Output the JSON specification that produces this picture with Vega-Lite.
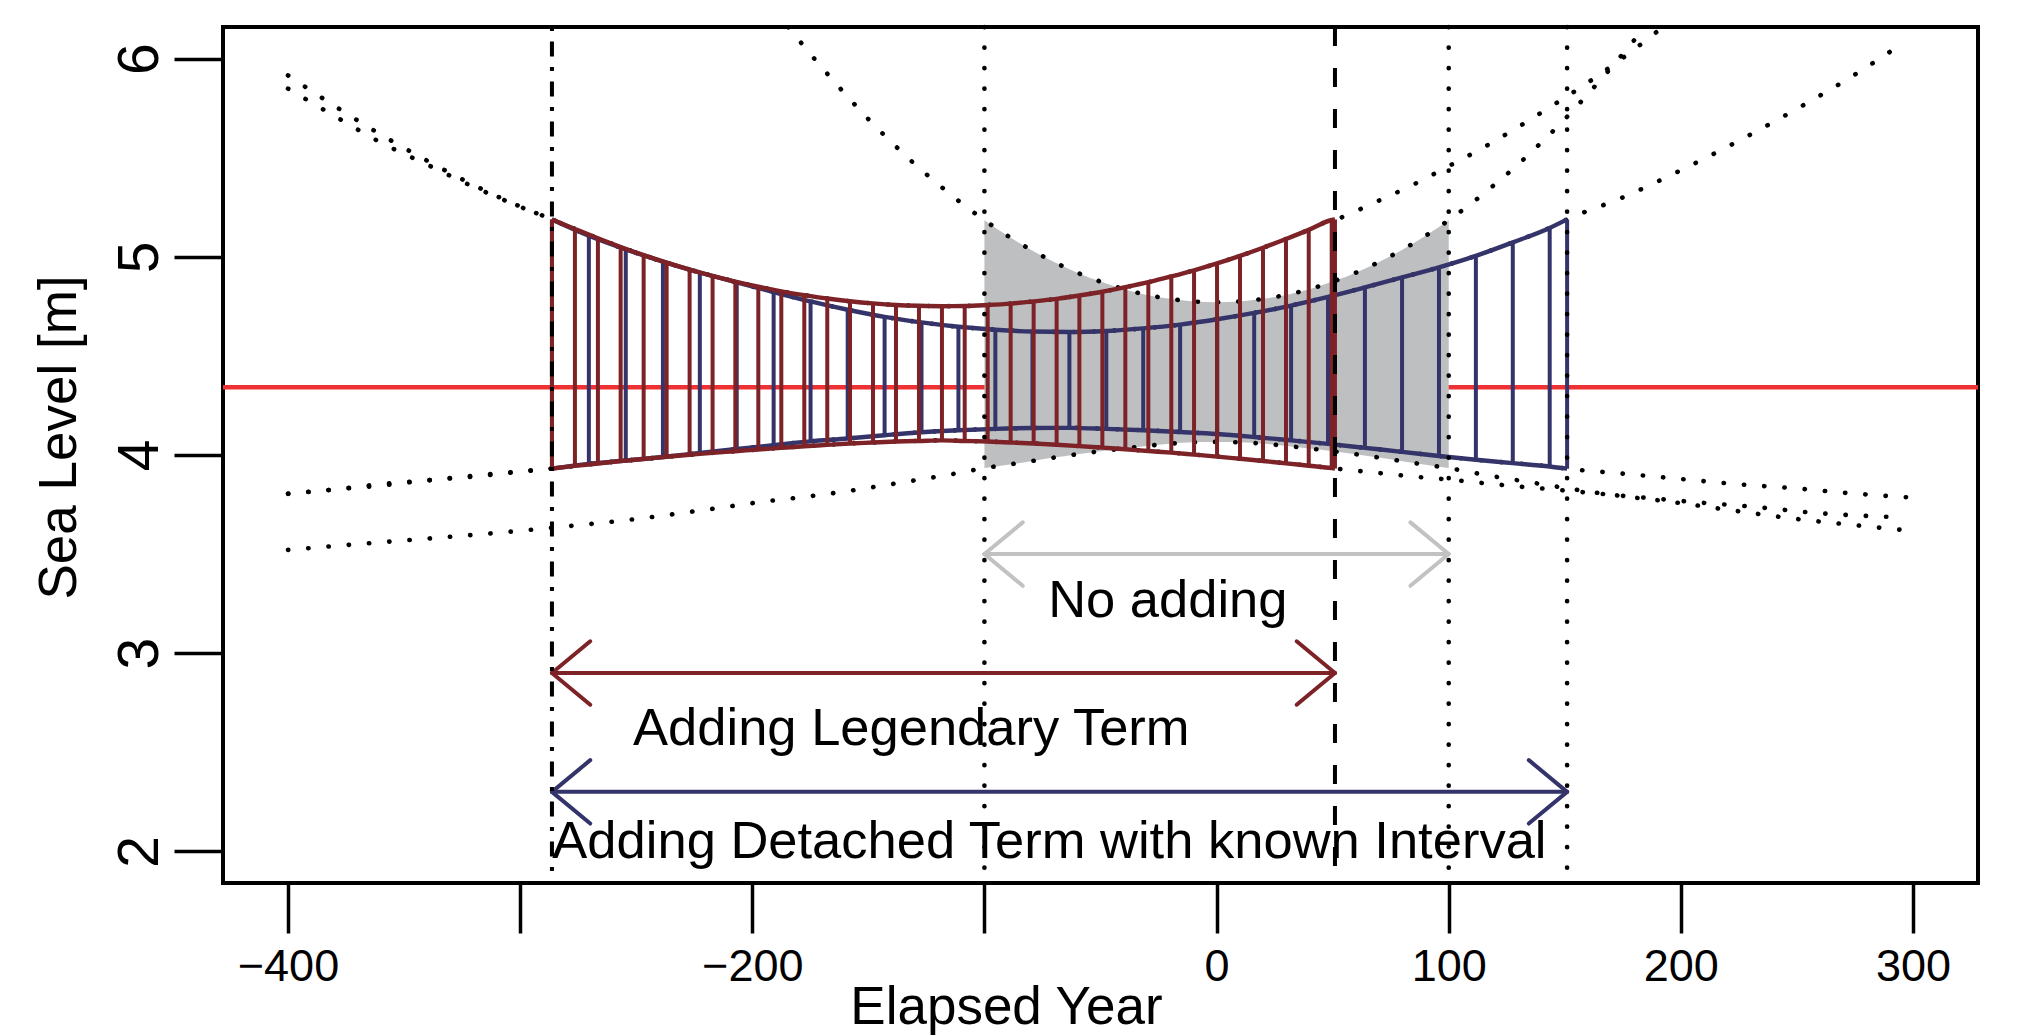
{
  "$schema": "https://vega.github.io/schema/vega-lite/v6.json",
  "width": 1755,
  "height": 856,
  "autosize": {"type": "none"},
  "padding": {"left": 223, "top": 27, "right": 40, "bottom": 152},
  "background": "white",
  "config": {
    "view": {"stroke": "black", "strokeWidth": 4},
    "font": "Liberation Sans",
    "axis": {"labelFont": "Liberation Sans", "titleFont": "Liberation Sans", "labelColor": "black", "titleColor": "black", "tickColor": "black", "titleFontWeight": "normal", "grid": false, "domain": false}
  },
  "datasets": {
    "bands": [
      {"band":"red","x":-400,"lo":3.805,"hi":5.916,"hatch":false},
      {"band":"red","x":-380,"lo":3.826,"hi":5.762,"hatch":false},
      {"band":"red","x":-360,"lo":3.846,"hi":5.617,"hatch":false},
      {"band":"red","x":-340,"lo":3.872,"hi":5.485,"hatch":false},
      {"band":"red","x":-320,"lo":3.891,"hi":5.362,"hatch":false},
      {"band":"red","x":-300,"lo":3.916,"hi":5.254,"hatch":false},
      {"band":"red","x":-286.3,"lo":3.932,"hi":5.189,"hatch":true},
      {"band":"red","x":-276.4,"lo":3.945,"hi":5.141,"hatch":true},
      {"band":"red","x":-266.5,"lo":3.957,"hi":5.094,"hatch":true},
      {"band":"red","x":-256.7,"lo":3.969,"hi":5.050,"hatch":true},
      {"band":"red","x":-246.8,"lo":3.980,"hi":5.009,"hatch":true},
      {"band":"red","x":-236.9,"lo":3.991,"hi":4.971,"hatch":true},
      {"band":"red","x":-227.0,"lo":4.001,"hi":4.936,"hatch":true},
      {"band":"red","x":-217.1,"lo":4.011,"hi":4.904,"hatch":true},
      {"band":"red","x":-207.3,"lo":4.019,"hi":4.875,"hatch":true},
      {"band":"red","x":-197.4,"lo":4.028,"hi":4.849,"hatch":true},
      {"band":"red","x":-187.5,"lo":4.036,"hi":4.826,"hatch":true},
      {"band":"red","x":-177.6,"lo":4.044,"hi":4.807,"hatch":true},
      {"band":"red","x":-167.7,"lo":4.051,"hi":4.790,"hatch":true},
      {"band":"red","x":-157.9,"lo":4.058,"hi":4.776,"hatch":true},
      {"band":"red","x":-148.0,"lo":4.063,"hi":4.765,"hatch":true},
      {"band":"red","x":-138.1,"lo":4.068,"hi":4.757,"hatch":true},
      {"band":"red","x":-128.2,"lo":4.071,"hi":4.753,"hatch":true},
      {"band":"red","x":-118.3,"lo":4.074,"hi":4.751,"hatch":true},
      {"band":"red","x":-108.5,"lo":4.071,"hi":4.752,"hatch":true},
      {"band":"red","x":-98.6,"lo":4.068,"hi":4.757,"hatch":true},
      {"band":"red","x":-88.7,"lo":4.063,"hi":4.764,"hatch":true},
      {"band":"red","x":-78.8,"lo":4.058,"hi":4.775,"hatch":true},
      {"band":"red","x":-68.9,"lo":4.052,"hi":4.788,"hatch":true},
      {"band":"red","x":-59.1,"lo":4.045,"hi":4.805,"hatch":true},
      {"band":"red","x":-49.2,"lo":4.037,"hi":4.824,"hatch":true},
      {"band":"red","x":-39.3,"lo":4.029,"hi":4.847,"hatch":true},
      {"band":"red","x":-29.4,"lo":4.020,"hi":4.872,"hatch":true},
      {"band":"red","x":-19.5,"lo":4.012,"hi":4.901,"hatch":true},
      {"band":"red","x":-9.7,"lo":4.002,"hi":4.932,"hatch":true},
      {"band":"red","x":0.2,"lo":3.992,"hi":4.967,"hatch":true},
      {"band":"red","x":10.1,"lo":3.981,"hi":5.005,"hatch":true},
      {"band":"red","x":20.0,"lo":3.970,"hi":5.046,"hatch":true},
      {"band":"red","x":29.9,"lo":3.958,"hi":5.090,"hatch":true},
      {"band":"red","x":39.7,"lo":3.946,"hi":5.136,"hatch":true},
      {"band":"red","x":49.6,"lo":3.934,"hi":5.186,"hatch":true},
      {"band":"red","x":51,"lo":3.932,"hi":5.189,"hatch":true},
      {"band":"red","x":60,"lo":3.921,"hi":5.231,"hatch":false},
      {"band":"red","x":70,"lo":3.909,"hi":5.284,"hatch":false},
      {"band":"red","x":85,"lo":3.891,"hi":5.366,"hatch":false},
      {"band":"red","x":100,"lo":3.876,"hi":5.458,"hatch":false},
      {"band":"red","x":115,"lo":3.858,"hi":5.552,"hatch":false},
      {"band":"red","x":130,"lo":3.841,"hi":5.656,"hatch":false},
      {"band":"red","x":145,"lo":3.826,"hi":5.766,"hatch":false},
      {"band":"red","x":160,"lo":3.810,"hi":5.880,"hatch":false},
      {"band":"red","x":175,"lo":3.794,"hi":6.004,"hatch":false},
      {"band":"red","x":190,"lo":3.779,"hi":6.139,"hatch":false},
      {"band":"red","x":205,"lo":3.763,"hi":6.28,"hatch":false},
      {"band":"red","x":230,"lo":3.740,"hi":null,"hatch":false},
      {"band":"red","x":260,"lo":3.706,"hi":null,"hatch":false},
      {"band":"red","x":297,"lo":3.685,"hi":null,"hatch":false},

      {"band":"blue","x":-400,"lo":3.804,"hi":5.849,"hatch":false},
      {"band":"blue","x":-380,"lo":3.826,"hi":5.711,"hatch":false},
      {"band":"blue","x":-360,"lo":3.853,"hi":5.577,"hatch":false},
      {"band":"blue","x":-340,"lo":3.872,"hi":5.465,"hatch":false},
      {"band":"blue","x":-320,"lo":3.896,"hi":5.353,"hatch":false},
      {"band":"blue","x":-300,"lo":3.917,"hi":5.253,"hatch":false},
      {"band":"blue","x":-286.3,"lo":3.931,"hi":5.189,"hatch":true},
      {"band":"blue","x":-270.4,"lo":3.955,"hi":5.107,"hatch":true},
      {"band":"blue","x":-254.5,"lo":3.972,"hi":5.038,"hatch":true},
      {"band":"blue","x":-238.5,"lo":3.990,"hi":4.976,"hatch":true},
      {"band":"blue","x":-222.6,"lo":4.010,"hi":4.921,"hatch":true},
      {"band":"blue","x":-206.7,"lo":4.030,"hi":4.871,"hatch":true},
      {"band":"blue","x":-190.8,"lo":4.050,"hi":4.822,"hatch":true},
      {"band":"blue","x":-174.9,"lo":4.069,"hi":4.775,"hatch":true},
      {"band":"blue","x":-158.9,"lo":4.083,"hi":4.733,"hatch":true},
      {"band":"blue","x":-143.0,"lo":4.100,"hi":4.697,"hatch":true},
      {"band":"blue","x":-127.1,"lo":4.115,"hi":4.669,"hatch":true},
      {"band":"blue","x":-111.2,"lo":4.125,"hi":4.647,"hatch":true},
      {"band":"blue","x":-95.3,"lo":4.132,"hi":4.632,"hatch":true},
      {"band":"blue","x":-79.3,"lo":4.136,"hi":4.623,"hatch":true},
      {"band":"blue","x":-63.4,"lo":4.137,"hi":4.621,"hatch":true},
      {"band":"blue","x":-47.5,"lo":4.132,"hi":4.626,"hatch":true},
      {"band":"blue","x":-31.6,"lo":4.125,"hi":4.639,"hatch":true},
      {"band":"blue","x":-15.7,"lo":4.116,"hi":4.658,"hatch":true},
      {"band":"blue","x":0.3,"lo":4.106,"hi":4.685,"hatch":true},
      {"band":"blue","x":16.2,"lo":4.091,"hi":4.717,"hatch":true},
      {"band":"blue","x":32.1,"lo":4.074,"hi":4.754,"hatch":true},
      {"band":"blue","x":48.0,"lo":4.056,"hi":4.798,"hatch":true},
      {"band":"blue","x":63.9,"lo":4.036,"hi":4.846,"hatch":true},
      {"band":"blue","x":79.9,"lo":4.016,"hi":4.896,"hatch":true},
      {"band":"blue","x":95.8,"lo":3.995,"hi":4.947,"hatch":true},
      {"band":"blue","x":111.7,"lo":3.976,"hi":5.005,"hatch":true},
      {"band":"blue","x":127.6,"lo":3.959,"hi":5.073,"hatch":true},
      {"band":"blue","x":143.5,"lo":3.942,"hi":5.146,"hatch":true},
      {"band":"blue","x":151,"lo":3.931,"hi":5.189,"hatch":true},
      {"band":"blue","x":175,"lo":3.906,"hi":5.300,"hatch":false},
      {"band":"blue","x":200,"lo":3.879,"hi":5.437,"hatch":false},
      {"band":"blue","x":225,"lo":3.852,"hi":5.586,"hatch":false},
      {"band":"blue","x":250,"lo":3.831,"hi":5.747,"hatch":false},
      {"band":"blue","x":275,"lo":3.805,"hi":5.920,"hatch":false},
      {"band":"blue","x":297,"lo":3.787,"hi":6.089,"hatch":false},

      {"band":"grey","x":-400,"lo":3.521,"hi":null,"hatch":false},
      {"band":"grey","x":-370,"lo":3.550,"hi":null,"hatch":false},
      {"band":"grey","x":-340,"lo":3.578,"hi":null,"hatch":false},
      {"band":"grey","x":-310,"lo":3.607,"hi":null,"hatch":false},
      {"band":"grey","x":-280,"lo":3.640,"hi":null,"hatch":false},
      {"band":"grey","x":-250,"lo":3.677,"hi":null,"hatch":false},
      {"band":"grey","x":-220,"lo":3.724,"hi":null,"hatch":false},
      {"band":"grey","x":-190,"lo":3.772,"hi":6.24,"hatch":false},
      {"band":"grey","x":-180,"lo":3.785,"hi":6.095,"hatch":false},
      {"band":"grey","x":-170,"lo":3.800,"hi":5.955,"hatch":false},
      {"band":"grey","x":-160,"lo":3.816,"hi":5.822,"hatch":false},
      {"band":"grey","x":-150,"lo":3.834,"hi":5.695,"hatch":false},
      {"band":"grey","x":-140,"lo":3.853,"hi":5.578,"hatch":false},
      {"band":"grey","x":-130,"lo":3.872,"hi":5.468,"hatch":false},
      {"band":"grey","x":-120,"lo":3.891,"hi":5.367,"hatch":false},
      {"band":"grey","x":-110,"lo":3.912,"hi":5.272,"hatch":false},
      {"band":"grey","x":-100,"lo":3.934,"hi":5.185,"hatch":false},
      {"band":"grey","x":-90,"lo":3.951,"hi":5.106,"hatch":false},
      {"band":"grey","x":-80,"lo":3.969,"hi":5.036,"hatch":false},
      {"band":"grey","x":-70,"lo":3.987,"hi":4.974,"hatch":false},
      {"band":"grey","x":-60,"lo":4.004,"hi":4.920,"hatch":false},
      {"band":"grey","x":-50,"lo":4.019,"hi":4.875,"hatch":false},
      {"band":"grey","x":-40,"lo":4.033,"hi":4.837,"hatch":false},
      {"band":"grey","x":-30,"lo":4.046,"hi":4.808,"hatch":false},
      {"band":"grey","x":-20,"lo":4.057,"hi":4.788,"hatch":false},
      {"band":"grey","x":-10,"lo":4.064,"hi":4.775,"hatch":false},
      {"band":"grey","x":0,"lo":4.066,"hi":4.771,"hatch":false},
      {"band":"grey","x":10,"lo":4.064,"hi":4.775,"hatch":false},
      {"band":"grey","x":20,"lo":4.057,"hi":4.788,"hatch":false},
      {"band":"grey","x":30,"lo":4.046,"hi":4.808,"hatch":false},
      {"band":"grey","x":40,"lo":4.033,"hi":4.837,"hatch":false},
      {"band":"grey","x":50,"lo":4.019,"hi":4.875,"hatch":false},
      {"band":"grey","x":60,"lo":4.004,"hi":4.920,"hatch":false},
      {"band":"grey","x":70,"lo":3.987,"hi":4.974,"hatch":false},
      {"band":"grey","x":80,"lo":3.969,"hi":5.036,"hatch":false},
      {"band":"grey","x":90,"lo":3.951,"hi":5.106,"hatch":false},
      {"band":"grey","x":100,"lo":3.934,"hi":5.185,"hatch":false},
      {"band":"grey","x":110,"lo":3.912,"hi":5.272,"hatch":false},
      {"band":"grey","x":120,"lo":3.891,"hi":5.367,"hatch":false},
      {"band":"grey","x":130,"lo":3.872,"hi":5.468,"hatch":false},
      {"band":"grey","x":140,"lo":3.853,"hi":5.578,"hatch":false},
      {"band":"grey","x":150,"lo":3.834,"hi":5.695,"hatch":false},
      {"band":"grey","x":160,"lo":3.816,"hi":5.822,"hatch":false},
      {"band":"grey","x":170,"lo":3.800,"hi":5.955,"hatch":false},
      {"band":"grey","x":180,"lo":3.785,"hi":6.095,"hatch":false},
      {"band":"grey","x":190,"lo":3.772,"hi":6.24,"hatch":false},
      {"band":"grey","x":220,"lo":3.724,"hi":null,"hatch":false},
      {"band":"grey","x":250,"lo":3.677,"hi":null,"hatch":false},
      {"band":"grey","x":280,"lo":3.640,"hi":null,"hatch":false},
      {"band":"grey","x":297,"lo":3.620,"hi":null,"hatch":false}
    ],
    "arrows": [
      {"arrow":"none","x":-100,"y":3.5,"x2":100,"y2":3.5},
      {"arrow":"none","x":-100,"y":3.5,"x2":-83.5,"y2":3.66},
      {"arrow":"none","x":-100,"y":3.5,"x2":-83.5,"y2":3.34},
      {"arrow":"none","x":100,"y":3.5,"x2":83.5,"y2":3.66},
      {"arrow":"none","x":100,"y":3.5,"x2":83.5,"y2":3.34},
      {"arrow":"legendary","x":-286.3,"y":2.9,"x2":51,"y2":2.9},
      {"arrow":"legendary","x":-286.3,"y":2.9,"x2":-269.8,"y2":3.06},
      {"arrow":"legendary","x":-286.3,"y":2.9,"x2":-269.8,"y2":2.74},
      {"arrow":"legendary","x":51,"y":2.9,"x2":34.5,"y2":3.06},
      {"arrow":"legendary","x":51,"y":2.9,"x2":34.5,"y2":2.74},
      {"arrow":"detached","x":-286.3,"y":2.3,"x2":151,"y2":2.3},
      {"arrow":"detached","x":-286.3,"y":2.3,"x2":-269.8,"y2":2.46},
      {"arrow":"detached","x":-286.3,"y":2.3,"x2":-269.8,"y2":2.14},
      {"arrow":"detached","x":151,"y":2.3,"x2":134.5,"y2":2.46},
      {"arrow":"detached","x":151,"y":2.3,"x2":134.5,"y2":2.14}
    ],
    "labels": [
      {"label":"No adding","x":-21,"y":3.182},
      {"label":"Adding Legendary Term","x":-131.5,"y":2.537},
      {"label":"Adding Detached Term with known Interval","x":-72,"y":1.965}
    ],
    "events": [
      {"kind":"start","x":-286.3},
      {"kind":"legendary end","x":51},
      {"kind":"window","x":-100},
      {"kind":"window","x":100},
      {"kind":"detached end","x":151}
    ]
  },
  "layer": [
    {
      "data": {"values": [{"level": 4.342}]},
      "mark": {"type": "rule", "color": "#EE3233", "strokeWidth": 4.4},
      "encoding": {
        "y": {"field": "level", "type": "quantitative", "scale": {"domain": [1.84, 6.16], "nice": false, "zero": false}}
      }
    },
    {
      "data": {"name": "bands"},
      "transform": [{"filter": {"field": "band", "equal": "grey"}}, {"filter": {"field": "x", "range": [-100, 100]}}],
      "mark": {"type": "area", "color": "#BEBFC1", "opacity": 1, "interpolate": "monotone"},
      "encoding": {
        "x": {"field": "x", "type": "quantitative", "scale": {"domain": [-428, 328], "nice": false, "zero": false},
              "title": "Elapsed Year",
              "axis": {"values": [-400, -300, -200, -100, 0, 100, 200, 300],
                       "labelExpr": "datum.value == -300 || datum.value == -100 ? '' : datum.label",
                       "labelFontSize": 45, "labelBaseline": "alphabetic", "labelPadding": 47,
                       "tickSize": 50, "tickWidth": 3.5, "labelFlush": false, "labelOverlap": false,
                       "titleFontSize": 53, "titleX": 783, "titleY": 140, "titleBaseline": "alphabetic", "titleAlign": "center"}},
        "y": {"field": "lo", "type": "quantitative", "scale": {"domain": [1.84, 6.16], "nice": false, "zero": false},
              "title": "Sea Level [m]",
              "axis": {"values": [2, 3, 4, 5, 6], "format": "d", "labelAngle": -90, "labelAlign": "center", "labelBaseline": "alphabetic",
                       "labelFontSize": 57, "labelPadding": 17, "tickSize": 49, "tickWidth": 3.5, "labelOverlap": false, "labelFlush": false,
                       "titleFontSize": 53, "titleAngle": -90, "titleX": -148, "titleY": 410, "titleAlign": "center", "titleBaseline": "alphabetic"}},
        "y2": {"field": "hi"}
      }
    },
    {
      "data": {"name": "bands"},
      "transform": [{"fold": ["lo", "hi"], "as": ["side", "value"]}],
      "mark": {"type": "line", "color": "black", "strokeWidth": 4.6, "strokeDash": [0.3, 20], "strokeCap": "round", "interpolate": "monotone", "clip": true},
      "encoding": {
        "x": {"field": "x", "type": "quantitative", "scale": {"domain": [-428, 328], "nice": false, "zero": false}},
        "y": {"field": "value", "type": "quantitative", "scale": {"domain": [1.84, 6.16], "nice": false, "zero": false}},
        "detail": [{"field": "band", "type": "nominal"}, {"field": "side", "type": "nominal"}]
      }
    },
    {
      "data": {"name": "bands"},
      "transform": [{"filter": {"field": "band", "equal": "blue"}}, {"filter": {"field": "hatch", "equal": true}}],
      "mark": {"type": "rule", "color": "#34346B", "strokeWidth": 4},
      "encoding": {
        "x": {"field": "x", "type": "quantitative", "scale": {"domain": [-428, 328], "nice": false, "zero": false}},
        "y": {"field": "lo", "type": "quantitative", "scale": {"domain": [1.84, 6.16], "nice": false, "zero": false}},
        "y2": {"field": "hi"}
      }
    },
    {
      "data": {"name": "bands"},
      "transform": [{"filter": {"field": "band", "equal": "blue"}}, {"filter": {"field": "x", "range": [-286.3, 151]}}, {"fold": ["lo", "hi"], "as": ["side", "value"]}],
      "mark": {"type": "line", "color": "#34346B", "strokeWidth": 4.4, "interpolate": "monotone"},
      "encoding": {
        "x": {"field": "x", "type": "quantitative", "scale": {"domain": [-428, 328], "nice": false, "zero": false}},
        "y": {"field": "value", "type": "quantitative", "scale": {"domain": [1.84, 6.16], "nice": false, "zero": false}},
        "detail": {"field": "side", "type": "nominal"}
      }
    },
    {
      "data": {"name": "bands"},
      "transform": [{"filter": {"field": "band", "equal": "red"}}, {"filter": {"field": "hatch", "equal": true}}],
      "mark": {"type": "rule", "color": "#7D2227", "strokeWidth": 4},
      "encoding": {
        "x": {"field": "x", "type": "quantitative", "scale": {"domain": [-428, 328], "nice": false, "zero": false}},
        "y": {"field": "lo", "type": "quantitative", "scale": {"domain": [1.84, 6.16], "nice": false, "zero": false}},
        "y2": {"field": "hi"}
      }
    },
    {
      "data": {"name": "bands"},
      "transform": [{"filter": {"field": "band", "equal": "red"}}, {"filter": {"field": "x", "range": [-286.3, 51]}}, {"fold": ["lo", "hi"], "as": ["side", "value"]}],
      "mark": {"type": "line", "color": "#7D2227", "strokeWidth": 4.4, "interpolate": "monotone"},
      "encoding": {
        "x": {"field": "x", "type": "quantitative", "scale": {"domain": [-428, 328], "nice": false, "zero": false}},
        "y": {"field": "value", "type": "quantitative", "scale": {"domain": [1.84, 6.16], "nice": false, "zero": false}},
        "detail": {"field": "side", "type": "nominal"}
      }
    },
    {
      "data": {"name": "arrows"},
      "mark": {"type": "rule", "strokeWidth": 4, "strokeCap": "round"},
      "encoding": {
        "x": {"field": "x", "type": "quantitative", "scale": {"domain": [-428, 328], "nice": false, "zero": false}},
        "y": {"field": "y", "type": "quantitative", "scale": {"domain": [1.84, 6.16], "nice": false, "zero": false}},
        "x2": {"field": "x2"},
        "y2": {"field": "y2"},
        "color": {"field": "arrow", "type": "nominal", "scale": {"domain": ["none", "legendary", "detached"], "range": ["#C2C2C2", "#7D2227", "#34346B"]}, "legend": null}
      }
    },
    {
      "data": {"name": "labels"},
      "mark": {"type": "text", "font": "Liberation Sans", "fontSize": 52.5, "align": "center", "baseline": "alphabetic", "color": "black"},
      "encoding": {
        "x": {"field": "x", "type": "quantitative", "scale": {"domain": [-428, 328], "nice": false, "zero": false}},
        "y": {"field": "y", "type": "quantitative", "scale": {"domain": [1.84, 6.16], "nice": false, "zero": false}},
        "text": {"field": "label"}
      }
    },
    {
      "data": {"name": "events"},
      "transform": [{"filter": {"field": "kind", "equal": "start"}}],
      "mark": {"type": "rule", "color": "black", "strokeWidth": 4, "strokeDash": [4, 10.5, 15, 10.5], "strokeCap": "butt"},
      "encoding": {
        "x": {"field": "x", "type": "quantitative", "scale": {"domain": [-428, 328], "nice": false, "zero": false}}
      }
    },
    {
      "data": {"name": "events"},
      "transform": [{"filter": {"field": "kind", "equal": "legendary end"}}],
      "mark": {"type": "rule", "color": "black", "strokeWidth": 4, "strokeDash": [19, 22], "strokeCap": "butt"},
      "encoding": {
        "x": {"field": "x", "type": "quantitative", "scale": {"domain": [-428, 328], "nice": false, "zero": false}}
      }
    },
    {
      "data": {"name": "events"},
      "transform": [{"filter": {"field": "kind", "oneOf": ["window", "detached end"]}}],
      "mark": {"type": "rule", "color": "black", "strokeWidth": 4.6, "strokeDash": [0.3, 20.2], "strokeCap": "round"},
      "encoding": {
        "x": {"field": "x", "type": "quantitative", "scale": {"domain": [-428, 328], "nice": false, "zero": false}}
      }
    }
  ]
}
